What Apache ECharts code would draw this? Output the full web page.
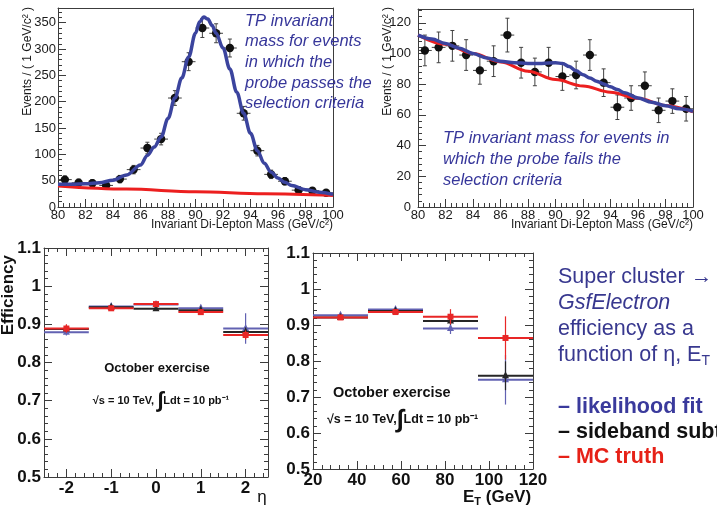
<!DOCTYPE html>
<html>
<head>
<meta charset="utf-8">
<title>Tag-and-probe electron efficiency</title>
<script src="https://cdn.jsdelivr.net/npm/echarts@6.0.0/dist/echarts.min.js"></script>
<style>
html, body { margin: 0; padding: 0; background: #ffffff; }
#chart { width: 717px; height: 507px; }
</style>
</head>
<body>
<div id="chart"></div>
<script>
// ---------- Tag-and-probe invariant mass, 1 GeV/c^2 bins ----------
const massBinCentres = [80.5, 81.5, 82.5, 83.5, 84.5, 85.5, 86.5, 87.5, 88.5, 89.5, 90.5, 91.5, 92.5, 93.5, 94.5, 95.5, 96.5, 97.5, 98.5, 99.5];
const massBinHalfWidth = 0.5;

// probe passes the selection
const passCounts = [52, 46, 45, 41, 53, 71, 112, 129, 207, 276, 340, 330, 302, 178, 107, 62, 49, 32, 31, 27];
const passErrors = [7, 7, 7, 6, 7, 8, 11, 11, 14, 17, 18, 18, 17, 13, 10, 8, 7, 6, 6, 5];
const passFitMass = [80, 81, 82, 83, 84, 85, 86, 86.5, 87, 87.5, 88, 88.5, 89, 89.5, 90, 90.3, 90.6, 90.9, 91.2, 91.5, 92, 92.5, 93, 93.5, 94, 94.5, 95, 95.5, 96, 96.5, 97, 98, 99, 100];
const passFitTotal = [43, 43, 44, 46, 51, 61, 80, 98, 114, 133, 168, 207, 245, 285, 330, 352, 361, 357, 345, 330, 302, 262, 218, 178, 140, 107, 83, 66, 55, 47, 41, 33, 28, 24];
const passBkgMass = [80, 85, 90, 95, 100];
const passBkgValues = [40, 34, 29, 25, 22];

// probe fails the selection
const failCounts = [102, 104, 105, 99, 89, 95, 112, 94, 88, 94, 85, 86, 99, 81, 65, 71, 79, 63, 69, 64];
const failErrors = [10, 10, 10, 10, 9, 10, 11, 10, 9, 10, 9, 9, 10, 9, 8, 8, 9, 8, 8, 8];
const failFitMass = [80, 81, 82, 83, 84, 85, 86, 87, 88, 89, 90, 90.5, 91, 91.5, 92, 92.5, 93, 93.5, 94, 94.5, 95, 96, 97, 98, 99, 100];
const failFitTotal = [112, 109.5, 106.5, 103.5, 100, 97, 95, 94, 93.5, 93.5, 94, 93.5, 91.5, 88.7, 86.2, 84, 82, 80.2, 78.3, 76.5, 74.5, 71, 68.2, 66, 64, 62.4];
const failBkgMass = [80, 82, 84, 86, 88, 90, 92, 94, 96, 98, 100];
const failBkgValues = [112, 106, 100, 94.5, 88.5, 83, 78.8, 74.8, 70.8, 66.2, 62];

// ---------- Efficiency vs eta ----------
const etaCentres = [-2, -1, 0, 1, 2];
const etaLow = [-2.5, -1.5, -0.5, 0.5, 1.5];
const etaHigh = [-1.5, -0.5, 0.5, 1.5, 2.5];
const etaFitEff = [0.879, 0.947, 0.952, 0.942, 0.889];
const etaFitErr = [0.008, 0.005, 0.004, 0.009, 0.040];
const etaSideEff = [0.888, 0.945, 0.941, 0.937, 0.880];
const etaSideErr = [0.006, 0.004, 0.004, 0.005, 0.012];
const etaTruthEff = [0.889, 0.942, 0.953, 0.932, 0.872];
const etaTruthErr = [0.011, 0.003, 0.004, 0.004, 0.012];
const etaStray = [[-1.32, 0.567]];

// ---------- Efficiency vs E_T ----------
const etCentres = [32.5, 57.5, 82.5, 107.5];
const etLow = [20, 45, 70, 95];
const etHigh = [45, 70, 95, 120];
const etFitEff = [0.927, 0.943, 0.890, 0.748];
const etFitErr = [0.004, 0.005, 0.015, 0.069];
const etSideEff = [0.921, 0.939, 0.911, 0.759];
const etSideErr = [0.003, 0.004, 0.010, 0.040];
const etTruthEff = [0.921, 0.936, 0.923, 0.864];
const etTruthErr = [0.003, 0.004, 0.021, 0.060];
const etStray = [[41.5, 0.566]];

// tick positions for the eta axis
const etaMajorTicks = [-2, -1, 0, 1, 2];
const etaMinorTicks = [-2.4, -2.2, -1.8, -1.6, -1.4, -1.2, -0.8, -0.6, -0.4, -0.2, 0.2, 0.4, 0.6, 0.8, 1.2, 1.4, 1.6, 1.8, 2.2, 2.4];

// ---------- styling ----------
const FONT = "'Liberation Sans', Arial, Helvetica, sans-serif";
const frameColor = '#3c3c3c';
const fitBlue = '#3b449e';
const bkgRed = '#ec1f1f';
const effBlue = '#6262b2';
const effBlack = '#262626';
const effRed = '#e82626';
const textBlue = '#36369a';

function mkAxis(grid, pos, min, max, opt) {
  opt = opt || {};
  const a = {
    type: 'value', gridIndex: grid, position: pos, min: min, max: max,
    axisLine: { show: !!opt.line, onZero: false, lineStyle: { color: frameColor, width: 1 } },
    axisTick: { show: !!opt.tick, inside: true, length: opt.tick || 0, lineStyle: { color: frameColor, width: 1 } },
    axisLabel: { show: false },
    splitLine: { show: false },
    minorTick: { show: false },
    axisPointer: { show: false }
  };
  if (opt.interval !== undefined) a.interval = opt.interval;
  if (opt.values) a.axisTick.customValues = opt.values;
  if (opt.label) {
    a.axisLabel = Object.assign({ show: true, fontFamily: FONT, color: '#1a1a1a' }, opt.label);
    if (opt.values) a.axisLabel.customValues = opt.values;
  }
  return a;
}

const massLabel = { fontSize: 13, margin: 2 };
const effLabel = { fontSize: 17, fontWeight: 'bold', margin: 3, color: '#111' };

const xAxes = [
  // mass, probe passes (grid 0)
  mkAxis(0, 'bottom', 80, 100, { line: true, tick: 8, interval: 2, label: massLabel }),
  mkAxis(0, 'bottom', 80, 100, { tick: 4, interval: 0.4 }),
  mkAxis(0, 'top', 80, 100, { line: true }),
  // mass, probe fails (grid 1)
  mkAxis(1, 'bottom', 80, 100, { line: true, tick: 8, interval: 2, label: massLabel }),
  mkAxis(1, 'bottom', 80, 100, { tick: 4, interval: 0.4 }),
  mkAxis(1, 'top', 80, 100, { line: true }),
  // eta (grid 2)
  mkAxis(2, 'bottom', -2.5, 2.5, { line: true, tick: 8, values: etaMajorTicks, label: effLabel }),
  mkAxis(2, 'bottom', -2.5, 2.5, { tick: 4, values: etaMinorTicks }),
  mkAxis(2, 'top', -2.5, 2.5, { line: true, tick: 8, values: etaMajorTicks }),
  mkAxis(2, 'top', -2.5, 2.5, { tick: 4, values: etaMinorTicks }),
  // E_T (grid 3)
  mkAxis(3, 'bottom', 20, 120, { line: true, tick: 8, interval: 20, label: effLabel }),
  mkAxis(3, 'bottom', 20, 120, { tick: 4, interval: 4 }),
  mkAxis(3, 'top', 20, 120, { line: true, tick: 8, interval: 20 }),
  mkAxis(3, 'top', 20, 120, { tick: 4, interval: 4 })
];

const yAxes = [
  mkAxis(0, 'left', 0, 378, { line: true, tick: 8, interval: 50, label: Object.assign({ showMaxLabel: false }, massLabel) }),
  mkAxis(0, 'left', 0, 378, { tick: 4, interval: 10 }),
  mkAxis(0, 'right', 0, 378, { line: true }),
  mkAxis(1, 'left', 0, 129, { line: true, tick: 8, interval: 20, label: { fontSize: 13, margin: 7, showMaxLabel: false } }),
  mkAxis(1, 'left', 0, 129, { tick: 4, interval: 4 }),
  mkAxis(1, 'right', 0, 129, { line: true }),
  mkAxis(2, 'left', 0.5, 1.1, { line: true, tick: 8, interval: 0.1, label: effLabel }),
  mkAxis(2, 'left', 0.5, 1.1, { tick: 4, interval: 0.02 }),
  mkAxis(2, 'right', 0.5, 1.1, { line: true, tick: 8, interval: 0.1 }),
  mkAxis(2, 'right', 0.5, 1.1, { tick: 4, interval: 0.02 }),
  mkAxis(3, 'left', 0.5, 1.1, { line: true, tick: 8, interval: 0.1, label: effLabel }),
  mkAxis(3, 'left', 0.5, 1.1, { tick: 4, interval: 0.02 }),
  mkAxis(3, 'right', 0.5, 1.1, { line: true, tick: 8, interval: 0.1 }),
  mkAxis(3, 'right', 0.5, 1.1, { tick: 4, interval: 0.02 })
];

// binned data point: horizontal bar over the bin, vertical error bar, filled dot
function histPointRenderer(params, api) {
  const x = api.value(0), y = api.value(1), e = api.value(2);
  const c = api.coord([x, y]);
  const l = api.coord([x - massBinHalfWidth, y]);
  const r = api.coord([x + massBinHalfWidth, y]);
  const t = api.coord([x, y + e]);
  const b = api.coord([x, y - e]);
  const s = { stroke: '#404040', lineWidth: 1 };
  return {
    type: 'group', children: [
      { type: 'line', shape: { x1: l[0], y1: c[1], x2: r[0], y2: c[1] }, style: s },
      { type: 'line', shape: { x1: c[0], y1: t[1], x2: c[0], y2: b[1] }, style: s },
      { type: 'line', shape: { x1: c[0] - 2, y1: t[1], x2: c[0] + 2, y2: t[1] }, style: s },
      { type: 'line', shape: { x1: c[0] - 2, y1: b[1], x2: c[0] + 2, y2: b[1] }, style: s },
      { type: 'circle', shape: { cx: c[0], cy: c[1], r: 4.2 }, style: { fill: '#111111' } }
    ]
  };
}

// efficiency point: bin-wide bar, vertical error, triangle or square marker
function effRenderer(color, marker) {
  return function (params, api) {
    const x = api.value(0), y = api.value(1), e = api.value(2);
    const c = api.coord([x, y]);
    const l = api.coord([api.value(3), y]);
    const r = api.coord([api.value(4), y]);
    const t = api.coord([x, y + e]);
    const b = api.coord([x, y - e]);
    const s = { stroke: color, lineWidth: 2 };
    const mark = marker === 'square'
      ? { type: 'rect', shape: { x: c[0] - 3, y: c[1] - 3, width: 6, height: 6 }, style: { fill: color } }
      : { type: 'polygon', shape: { points: [[c[0], c[1] - 4.5], [c[0] - 3.5, c[1] + 2.5], [c[0] + 3.5, c[1] + 2.5]] }, style: { fill: color } };
    return {
      type: 'group', children: [
        { type: 'line', shape: { x1: l[0], y1: c[1], x2: r[0], y2: c[1] }, style: s },
        { type: 'line', shape: { x1: c[0], y1: t[1], x2: c[0], y2: b[1] }, style: { stroke: color, lineWidth: 1.2 } },
        mark
      ]
    };
  };
}

function histData(counts, errors) {
  return massBinCentres.map((m, i) => [m, counts[i], errors[i]]);
}
function effData(centres, eff, err, low, high) {
  return centres.map((c, i) => [c, eff[i], err[i], low[i], high[i]]);
}
function curve(xs, ys) {
  return xs.map((x, i) => [x, ys[i]]);
}
function lineSeries(xi, yi, data, color, width, z) {
  return {
    type: 'line', xAxisIndex: xi, yAxisIndex: yi, data: data, smooth: 0.35, smoothMonotone: 'x',
    symbol: 'none', silent: true, z: z, lineStyle: { color: color, width: width }
  };
}
function customSeries(xi, yi, data, renderer, z) {
  return { type: 'custom', xAxisIndex: xi, yAxisIndex: yi, data: data, renderItem: renderer, silent: true, z: z };
}

const series = [
  customSeries(0, 0, histData(passCounts, passErrors), histPointRenderer, 2),
  lineSeries(0, 0, curve(passBkgMass, passBkgValues), bkgRed, 3, 3),
  lineSeries(0, 0, curve(passFitMass, passFitTotal), fitBlue, 3.5, 4),

  customSeries(3, 3, histData(failCounts, failErrors), histPointRenderer, 2),
  lineSeries(3, 3, curve(failBkgMass, failBkgValues), bkgRed, 3, 3),
  lineSeries(3, 3, curve(failFitMass, failFitTotal), fitBlue, 3.5, 4),

  customSeries(6, 6, effData(etaCentres, etaFitEff, etaFitErr, etaLow, etaHigh), effRenderer(effBlue, 'triangle'), 2),
  customSeries(6, 6, effData(etaCentres, etaSideEff, etaSideErr, etaLow, etaHigh), effRenderer(effBlack, 'triangle'), 3),
  customSeries(6, 6, effData(etaCentres, etaTruthEff, etaTruthErr, etaLow, etaHigh), effRenderer(effRed, 'square'), 4),
  { type: 'scatter', xAxisIndex: 6, yAxisIndex: 6, data: etaStray, symbol: 'emptyCircle', symbolSize: 5, silent: true,
    itemStyle: { color: '#ffffff', borderColor: effRed, borderWidth: 1 } },

  customSeries(10, 10, effData(etCentres, etFitEff, etFitErr, etLow, etHigh), effRenderer(effBlue, 'triangle'), 2),
  customSeries(10, 10, effData(etCentres, etSideEff, etSideErr, etLow, etHigh), effRenderer(effBlack, 'triangle'), 3),
  customSeries(10, 10, effData(etCentres, etTruthEff, etTruthErr, etLow, etHigh), effRenderer(effRed, 'square'), 4),
  { type: 'scatter', xAxisIndex: 10, yAxisIndex: 10, data: etStray, symbol: 'emptyCircle', symbolSize: 5, silent: true,
    itemStyle: { color: '#ffffff', borderColor: effRed, borderWidth: 1 } }
];

function txt(x, y, text, font, fill, extra) {
  return Object.assign({
    type: 'text', x: x, y: y, silent: true, z: 50,
    style: Object.assign({ text: text, font: font, fill: fill, align: 'left', verticalAlign: 'middle' }, (extra && extra.style) || {})
  }, (extra && extra.el) || {});
}

const italicNote = 'italic 16.5px ' + FONT;
const slideFont = '21.5px ' + FONT;
const slideBold = 'bold 21.5px ' + FONT;

const graphics = [
  // mass plot annotations
  txt(245, 11, 'TP invariant\nmass for events\nin which the\nprobe passes the\nselection criteria', italicNote, textBlue,
      { style: { verticalAlign: 'top', lineHeight: 20.6 } }),
  txt(443, 128, 'TP invariant mass for events in\nwhich the probe fails the\nselection criteria', italicNote, textBlue,
      { style: { verticalAlign: 'top', lineHeight: 21 } }),
  // mass axis titles
  txt(333, 225, 'Invariant Di-Lepton Mass (GeV/c²)', '12px ' + FONT, '#1a1a1a', { style: { align: 'right' } }),
  txt(693, 225, 'Invariant Di-Lepton Mass (GeV/c²)', '12px ' + FONT, '#1a1a1a', { style: { align: 'right' } }),
  txt(28, 7, 'Events / ( 1 GeV/c² )', '12px ' + FONT, '#1a1a1a', { style: { align: 'right' }, el: { rotation: Math.PI / 2 } }),
  txt(388, 7, 'Events / ( 1 GeV/c² )', '12px ' + FONT, '#1a1a1a', { style: { align: 'right' }, el: { rotation: Math.PI / 2 } }),
  // efficiency axis titles
  txt(8, 255, 'Efficiency', 'bold 17px ' + FONT, '#111', { style: { align: 'right' }, el: { rotation: Math.PI / 2 } }),
  txt(262, 497, 'η', '17px ' + FONT, '#111', { style: { align: 'center' } }),
  txt(463, 497, '{e|E}{t|T}{e| (GeV)}', 'bold 17px ' + FONT, '#111', {
    style: { rich: {
      e: { font: 'bold 17px ' + FONT, fill: '#111', lineHeight: 20 },
      t: { font: 'bold 11px ' + FONT, fill: '#111', verticalAlign: 'bottom', lineHeight: 14 }
    } }
  }),
  // efficiency plot notes
  txt(157, 368, 'October exercise', 'bold 13px ' + FONT, '#111', { style: { align: 'center' } }),
  txt(161, 401, '{a|√s = 10 TeV, }{b|∫}{a|Ldt = 10 pb⁻¹}', 'bold 11px ' + FONT, '#111', {
    style: { align: 'center', rich: {
      a: { font: 'bold 11px ' + FONT, fill: '#111' },
      b: { font: 'bold 22px ' + FONT, fill: '#111' }
    } }
  }),
  txt(333, 393, 'October exercise', 'bold 14.5px ' + FONT, '#111'),
  txt(327, 420, '{a|√s = 10 TeV,}{b|∫}{a|Ldt = 10 pb⁻¹}', 'bold 12.5px ' + FONT, '#111', {
    style: { rich: {
      a: { font: 'bold 12.5px ' + FONT, fill: '#111' },
      b: { font: 'bold 25px ' + FONT, fill: '#111' }
    } }
  }),
  // slide text
  txt(558, 277, 'Super cluster →', slideFont, '#38388f'),
  txt(558, 303, 'GsfElectron', 'italic 21.5px ' + FONT, '#38388f'),
  txt(558, 329, 'efficiency as a', slideFont, '#38388f'),
  txt(558, 355, '{a|function of η, E}{b|T}', slideFont, '#38388f', {
    style: { rich: {
      a: { font: slideFont, fill: '#38388f', lineHeight: 26 },
      b: { font: '14px ' + FONT, fill: '#38388f', verticalAlign: 'bottom', lineHeight: 18 }
    } }
  }),
  txt(558, 407, '– likelihood fit', slideBold, '#3a3a9c'),
  txt(558, 432, '– sideband subtraction', slideBold, '#111111'),
  txt(558, 457, '– MC truth', slideBold, '#e62117')
];

const chart = echarts.init(document.getElementById('chart'), null, { renderer: 'canvas' });
chart.setOption({
  animation: false,
  backgroundColor: '#ffffff',
  textStyle: { fontFamily: FONT },
  grid: [
    { left: 58, top: 8, width: 275, height: 199 },
    { left: 418, top: 9, width: 275, height: 198 },
    { left: 44, top: 248, width: 224, height: 229 },
    { left: 313, top: 253, width: 220, height: 216 }
  ],
  xAxis: xAxes,
  yAxis: yAxes,
  series: series,
  graphic: { elements: graphics }
});
</script>
</body>
</html>
